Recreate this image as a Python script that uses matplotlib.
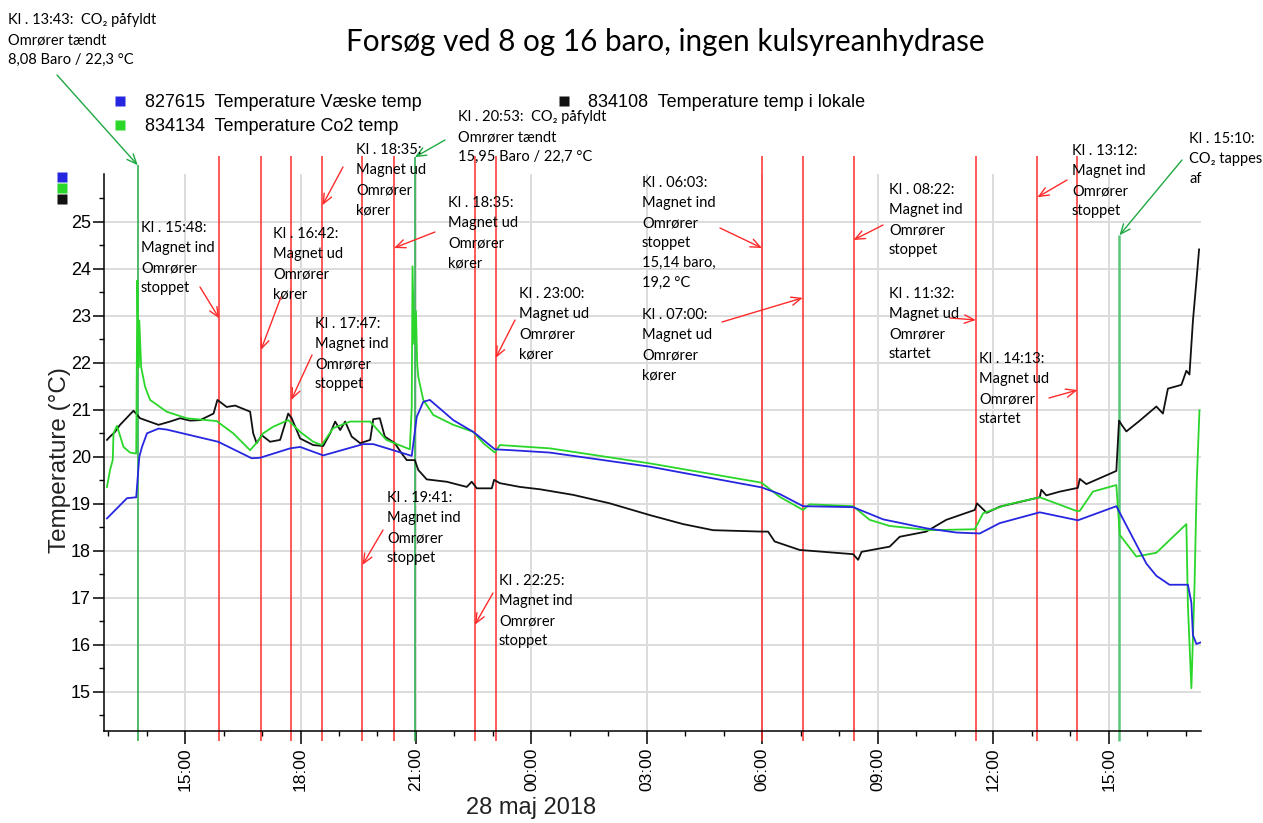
import numpy as np
import matplotlib
matplotlib.use("Agg")
import matplotlib.pyplot as plt
import matplotlib.dates as mdates
from matplotlib.lines import Line2D

plt.rcParams["font.family"] = ["Liberation Sans", "DejaVu Sans"]

# time in hours relative to 28 maj 2018 00:00 (negative = 27 maj)
vaeske_t = [-11.03, -10.51, -10.27, -10.19, -10.12, -9.99, -9.69, -9.48, -8.14, -7.27,
            -7.05, -6.27, -6.01, -5.41, -4.37, -4.11, -3.11, -2.98, -2.81, -2.64,
            -2.03, -1.51, -0.95, -0.30, 0.48, 3.08, 5.98, 6.45, 7.06, 8.36,
            9.14, 10.26, 11.04, 11.65, 12.17, 13.21, 14.20, 15.20, 15.98, 16.24,
            16.58, 17.06, 17.15, 17.19, 17.28, 17.41]
vaeske_temp = [18.69, 19.12, 19.14, 20.00, 20.21, 20.50, 20.60, 20.58, 20.32, 19.97,
               19.98, 20.18, 20.21, 20.03, 20.27, 20.27, 20.02, 20.85, 21.17, 21.21,
               20.78, 20.53, 20.16, 20.13, 20.09, 19.79, 19.35, 19.21, 18.95, 18.93,
               18.67, 18.48, 18.39, 18.37, 18.59, 18.82, 18.65, 18.95, 17.73, 17.47,
               17.28, 17.28, 16.90, 16.21, 16.02, 16.06]

co2_t = [-11.03, -10.95, -10.88, -10.86, -10.77, -10.60, -10.43, -10.27, -10.24, -10.21,
         -10.19, -10.14, -10.04, -9.91, -9.48, -8.96, -8.18, -7.75, -7.31, -7.14,
         -6.97, -6.71, -6.32, -6.01, -5.67, -5.45, -5.15, -4.71, -4.19, -3.77,
         -3.16, -3.11, -3.09, -3.05, -3.00, -2.97, -2.94, -2.81, -2.55, -2.03,
         -1.51, -1.25, -0.95, -0.82, 0.48, 3.08, 5.98, 6.45, 7.06, 7.23,
         8.36, 8.79, 9.31, 10.35, 11.52, 11.74, 12.34, 13.21, 14.16, 14.25,
         14.59, 15.20, 15.29, 15.72, 16.24, 17.02, 17.06, 17.15, 17.23, 17.29,
         17.36]
co2_temp = [19.36, 19.72, 19.93, 20.50, 20.66, 20.21, 20.09, 20.07, 23.75, 21.90,
            22.90, 21.90, 21.49, 21.21, 20.96, 20.82, 20.76, 20.50, 20.14, 20.30,
            20.50, 20.64, 20.78, 20.53, 20.32, 20.25, 20.61, 20.75, 20.75, 20.36,
            20.16, 21.06, 24.05, 22.40, 23.10, 22.00, 21.70, 21.21, 20.89, 20.68,
            20.53, 20.29, 20.09, 20.25, 20.18, 19.86, 19.45, 19.15, 18.87, 18.99,
            18.95, 18.66, 18.53, 18.44, 18.46, 18.80, 18.98, 19.14, 18.85, 18.85,
            19.26, 19.40, 18.34, 17.88, 17.96, 18.57, 16.83, 15.08, 17.20, 19.48,
            20.99]

lokale_t = [-11.03, -10.95, -10.82, -10.69, -10.34, -10.17, -9.69, -9.39, -9.13, -8.87,
            -8.61, -8.26, -8.16, -7.92, -7.70, -7.31, -7.23, -7.14, -7.01, -6.79,
            -6.53, -6.32, -6.23, -6.01, -5.67, -5.41, -5.23, -5.10, -4.97, -4.84,
            -4.67, -4.45, -4.19, -4.11, -3.94, -3.81, -3.55, -3.37, -3.24, -3.03,
            -2.94, -2.72, -2.20, -1.68, -1.55, -1.42, -1.03, -0.97, -0.82, -0.30,
            0.22, 1.09, 2.04, 3.08, 3.94, 4.72, 5.98, 6.15, 6.32, 6.97,
            8.36, 8.49, 8.58, 9.31, 9.57, 10.26, 10.78, 11.52, 11.58, 11.83,
            12.17, 13.21, 13.25, 13.38, 13.73, 14.20, 14.25, 14.42, 15.20, 15.27,
            15.33, 15.46, 15.81, 16.24, 16.41, 16.54, 16.89, 17.02, 17.10, 17.19,
            17.28, 17.35]
lokale_temp = [20.36, 20.43, 20.53, 20.68, 20.98, 20.82, 20.68, 20.75, 20.82, 20.77,
               20.78, 20.92, 21.21, 21.06, 21.09, 20.96, 20.50, 20.29, 20.46, 20.32,
               20.36, 20.92, 20.82, 20.39, 20.25, 20.23, 20.50, 20.75, 20.57, 20.75,
               20.43, 20.29, 20.36, 20.80, 20.82, 20.43, 20.29, 20.07, 19.93, 19.93,
               19.72, 19.52, 19.47, 19.36, 19.47, 19.33, 19.33, 19.51, 19.44, 19.36,
               19.31, 19.19, 19.01, 18.76, 18.57, 18.44, 18.41, 18.41, 18.20, 18.02,
               17.93, 17.81, 17.98, 18.09, 18.30, 18.41, 18.66, 18.87, 19.01, 18.81,
               18.94, 19.14, 19.30, 19.18, 19.26, 19.34, 19.53, 19.42, 19.70, 20.77,
               20.69, 20.54, 20.77, 21.07, 20.92, 21.45, 21.53, 21.83, 21.75, 22.89,
               23.73, 24.41]

series_labels = ["827615  Temperature Væske temp",
                 "834134  Temperature Co2 temp",
                 "834108  Temperature temp i lokale"]

# event lines (magnet/omrører = red, CO2 = green)
red_events = [-8.11, -7.03, -6.24, -5.43, -4.39, -3.57, -1.47, -0.93,
              5.99, 7.05, 8.37, 11.55, 13.15, 14.19]
green_events = [-10.23, -3.03, 15.28]

note_texts = [
    "Kl . 13:43:  CO\u2082 påfyldt\nOmrører tændt\n8,08 Baro / 22,3 °C",
    "Kl . 15:48:\nMagnet ind\nOmrører\nstoppet",
    "Kl . 16:42:\nMagnet ud\nOmrører\nkører",
    "Kl . 17:47:\nMagnet ind\nOmrører\nstoppet",
    "Kl . 18:35:\nMagnet ud\nOmrører\nkører",
    "Kl . 18:35:\nMagnet ud\nOmrører\nkører",
    "Kl . 20:53:  CO\u2082 påfyldt\nOmrører tændt\n15,95 Baro / 22,7 °C",
    "Kl . 23:00:\nMagnet ud\nOmrører\nkører",
    "Kl . 19:41:\nMagnet ind\nOmrører\nstoppet",
    "Kl . 22:25:\nMagnet ind\nOmrører\nstoppet",
    "Kl . 06:03:\nMagnet ind\nOmrører\nstoppet\n15,14 baro,\n19,2 °C",
    "Kl . 07:00:\nMagnet ud\nOmrører\nkører",
    "Kl . 08:22:\nMagnet ind\nOmrører\nstoppet",
    "Kl . 11:32:\nMagnet ud\nOmrører\nstartet",
    "Kl . 14:13:\nMagnet ud\nOmrører\nstartet",
    "Kl . 13:12:\nMagnet ind\nOmrører\nstoppet",
    "Kl . 15:10:\nCO\u2082 tappes\naf",
]
note_event = [-10.23, -8.11, -7.03, -6.24, -5.43, -3.57, -3.03, -0.93, -4.39, -1.47,
              5.99, 7.05, 8.37, 11.55, 14.19, 13.15, 15.28]
note_tip_temp = [26.20, 22.94, 22.27, 21.21, 25.35, 24.44, 26.37, 22.10, 17.70, 16.43,
                 24.44, 23.38, 24.61, 22.91, 21.42, 25.52, 24.71]

W, H = 1263, 823
BASE = np.datetime64("2018-05-28T00:00")


def to_dates(hours):
    secs = np.round(np.asarray(hours, dtype=float) * 3600).astype("int64")
    return mdates.date2num(BASE + secs.astype("timedelta64[s]"))


def fx(x):
    return x / W


def fy(y):
    return 1 - y / H


fig = plt.figure(figsize=(W / 100, H / 100), dpi=100)
ax = fig.add_axes([fx(103.5), fy(731), fx(1201) - fx(103.5), fy(173.7) - fy(731)])

BLUE, GREEN, BLACK = "#2626e0", "#2ad62a", "#111111"
RED_EV, GREEN_EV = "#ff2b2b", "#1fa843"

ax.plot(to_dates(lokale_t), lokale_temp, color=BLACK, lw=1.3, zorder=3)
ax.plot(to_dates(co2_t), co2_temp, color=GREEN, lw=1.3, zorder=3)
ax.plot(to_dates(vaeske_t), vaeske_temp, color=BLUE, lw=1.3, zorder=3)

ax.set_xlim(to_dates([-11.12])[0], to_dates([17.40])[0])
ax.set_ylim(14.17, 26.02)

# event lines
ax.vlines(to_dates(red_events), 13.96, 26.39, colors=RED_EV, lw=1.1, clip_on=False, zorder=2)
green_tops = [note_tip_temp[note_event.index(g)] for g in green_events]
for i, (g, top) in enumerate(zip(green_events, green_tops)):
    ax.vlines(to_dates([g]), 13.96, top, colors=GREEN_EV if i < 2 else "#5cc47c",
              lw=1.1 if i < 2 else 1.8, clip_on=False, zorder=2)

# axes styling
ax.xaxis.set_major_locator(mdates.HourLocator(byhour=range(0, 24, 3)))
ax.xaxis.set_minor_locator(mdates.HourLocator())
ax.xaxis.set_major_formatter(mdates.DateFormatter("%H:%M"))
ax.set_yticks(range(15, 26))
ax.set_yticks(np.arange(14.5, 26, 1.0), minor=True)
ax.grid(True, which="major", color="#dcdcdc", lw=1.4, zorder=0)
ax.set_axisbelow(True)
for s in ["top", "right"]:
    ax.spines[s].set_visible(False)
for s in ["left", "bottom"]:
    ax.spines[s].set_linewidth(1.1)
ax.tick_params(axis="x", which="major", length=9, width=1.1, labelsize=12.5,
               labelrotation=90, pad=3)
ax.tick_params(axis="x", which="minor", length=3.5, width=1.0)
ax.tick_params(axis="y", which="major", length=8, width=1.1, labelsize=13, pad=1)
ax.tick_params(axis="y", which="minor", length=3.5, width=1.0)

ax.set_ylabel("Temperature (°C)", fontsize=17.5, color="#222222")
ax.yaxis.set_label_coords((60 - 103.5) / 1097.5, (731 - 460) / 557.3)
ax.yaxis.label.set_va("center")
ax.set_xlabel("28 maj 2018", fontsize=17, color="#222222")
ax.xaxis.set_label_coords((531 - 103.5) / 1097.5, (731 - 808) / 557.3)
ax.xaxis.label.set_va("center")

fig.text(fx(665), fy(42), "Forsøg ved 8 og 16 baro, ingen kulsyreanhydrase",
         ha="center", va="center", fontsize=21.3, family=["Lato", "DejaVu Sans"])

# legend
handles = [Line2D([], [], ls="none", marker="s", ms=7, mec="none", mfc=c)
           for c in (BLUE, GREEN, BLACK)]
fig.legend(handles, series_labels, ncol=2, loc="upper left",
           bbox_to_anchor=(fx(115), fy(94)), frameon=False, fontsize=13,
           handlelength=0.6, handletextpad=1.05, columnspacing=7.6,
           labelspacing=0.38, borderpad=0, borderaxespad=0)
fig.legend(handles, ["", "", ""], loc="upper left", bbox_to_anchor=(fx(57.5), fy(173)),
           frameon=False, fontsize=8, handlelength=0.8, handleheight=1.0,
           handletextpad=0, labelspacing=0, borderpad=0, borderaxespad=0)

# annotations: text top-left and arrow tail, in figure pixels
note_text_px = [(8, 13), (141, 221), (273, 227), (315, 317), (356, 143), (448, 196),
                (458, 110), (519, 287), (387, 491), (499, 574), (642, 176), (642, 308),
                (889, 183), (889, 287), (979, 352), (1072, 144), (1189, 132)]
note_tail_px = [(57, 75), (200, 287), (281, 297), (312, 355), (343, 167), (435, 232),
                (445, 140), (515, 320), (383, 530), (493, 593), (720, 228), (722, 322),
                (883, 225), (950, 318), (1049, 398), (1067, 180), (1182, 160)]

for txt, ev, tip, (tx, ty), (ax_x, ax_y) in zip(note_texts, note_event, note_tip_temp,
                                               note_text_px, note_tail_px):
    col = GREEN_EV if ev in green_events else RED_EV
    fig.text(fx(tx), fy(ty), txt, ha="left", va="top", fontsize=10.5,
             family=["Lato", "DejaVu Sans"], linespacing=1.55)
    ax.annotate("", xy=(to_dates([ev])[0], tip), xycoords="data",
                xytext=(ax_x, H - ax_y), textcoords="figure pixels",
                annotation_clip=False,
                arrowprops=dict(arrowstyle="->,head_length=0.7,head_width=0.3",
                                color=col, lw=1.0, shrinkA=0, shrinkB=0))

fig.savefig("out.png", dpi=100)
